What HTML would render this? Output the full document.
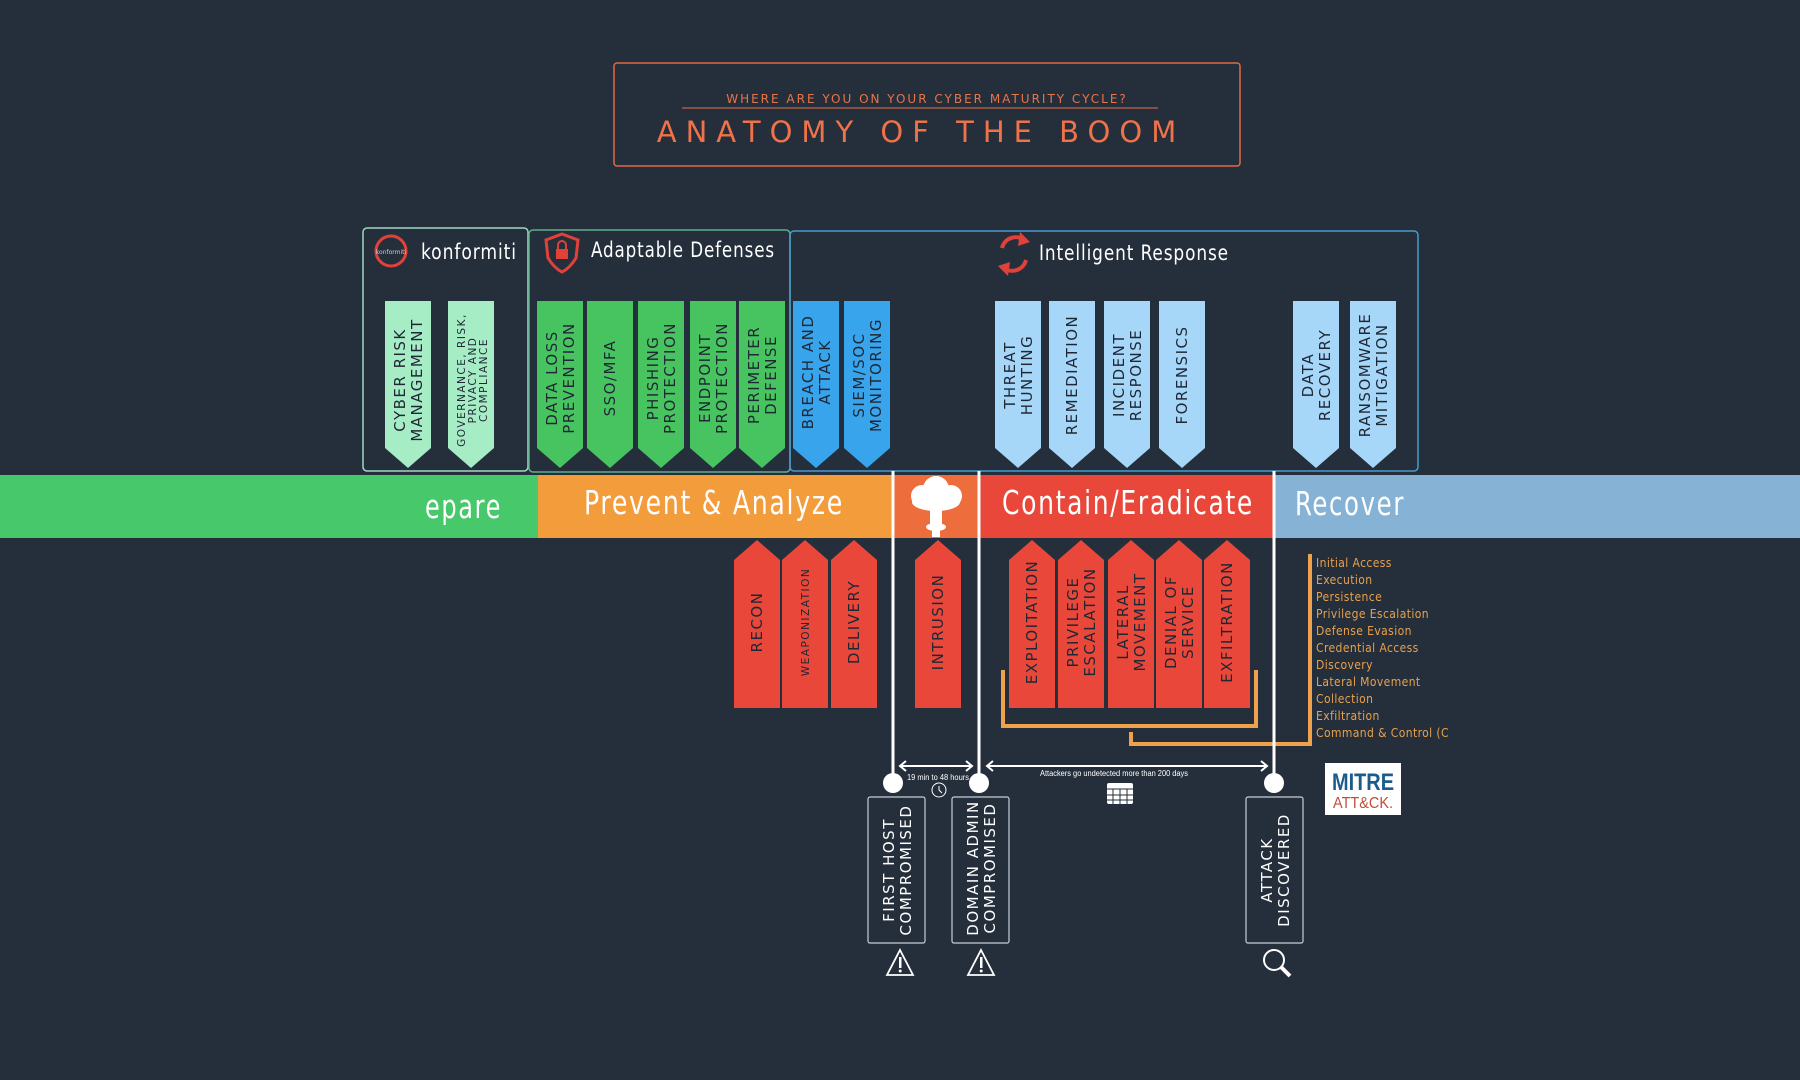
<!DOCTYPE html>
<html><head><meta charset="utf-8"><style>
html,body{margin:0;padding:0;background:#252e3b;}
svg{display:block}
.pt{font-family:"DejaVu Sans","Liberation Sans",sans-serif;font-size:15px;fill:#1f2735;letter-spacing:1.5px}
.sm{font-size:10.5px}
.hd{font-family:"Liberation Sans Narrow","DejaVu Sans Condensed","Liberation Sans",sans-serif;fill:#fff;font-size:21px;letter-spacing:1px}
.band{font-family:"Liberation Sans Narrow","DejaVu Sans Condensed","Liberation Sans",sans-serif;fill:#fff;font-size:33px;letter-spacing:2px}
.ml{font-family:"Liberation Sans Narrow","DejaVu Sans Condensed","Liberation Sans",sans-serif;fill:#e8a14c;font-size:12px;letter-spacing:0.4px}
.lb{font-family:"DejaVu Sans","Liberation Sans",sans-serif;fill:#fff;font-size:15px;letter-spacing:1.5px}
</style></head><body>
<svg width="1800" height="1080" viewBox="0 0 1800 1080" xmlns="http://www.w3.org/2000/svg">
<rect width="1800" height="1080" fill="#252e3b"/>
<rect x="614" y="63" width="626" height="103" rx="3" fill="none" stroke="#e06a44" stroke-width="1.5"/>
<text x="927" y="103" text-anchor="middle" font-family="DejaVu Sans,sans-serif" font-size="12" fill="#e8744a" letter-spacing="2">WHERE ARE YOU ON YOUR CYBER MATURITY CYCLE?</text>
<line x1="682" y1="108" x2="1158" y2="108" stroke="#e8744a" stroke-width="1"/>
<text x="921" y="142" text-anchor="middle" font-family="DejaVu Sans,sans-serif" font-size="29" fill="#ef7248" letter-spacing="9">ANATOMY OF THE BOOM</text>

<rect x="363" y="228" width="165" height="243" rx="4" fill="none" stroke="#9fd8c4" stroke-width="1.5"/>
<rect x="529" y="230" width="261" height="242" rx="4" fill="none" stroke="#5fae8a" stroke-width="1.5"/>
<rect x="790" y="231" width="628" height="240" rx="4" fill="none" stroke="#4a9ad0" stroke-width="1.5"/>

<circle cx="391" cy="251" r="15" fill="none" stroke="#e0423a" stroke-width="3"/>
<text x="391" y="254" text-anchor="middle" font-size="6" fill="#ccc" font-family="DejaVu Sans,sans-serif">konformiti</text>
<text x="421" y="259" class="hd" textLength="96" lengthAdjust="spacingAndGlyphs">konformiti</text>
<path d="M562 234 L578 240 L576 258 Q570 268 562 272 Q554 268 548 258 L546 240 Z" fill="none" stroke="#e0423a" stroke-width="3"/>
<rect x="556" y="249" width="12" height="10" fill="#e0423a"/>
<path d="M558 249 v-4 a4 4 0 0 1 8 0 v4" fill="none" stroke="#e0423a" stroke-width="2"/>
<text x="591" y="257" class="hd" textLength="184" lengthAdjust="spacingAndGlyphs">Adaptable Defenses</text>
<path d="M1002 248 A14 14 0 0 1 1024 240" fill="none" stroke="#e0423a" stroke-width="4"/>
<path d="M1026 260 A14 14 0 0 1 1004 268" fill="none" stroke="#e0423a" stroke-width="4"/>
<polygon points="1020,232 1030,242 1018,246" fill="#e0423a"/>
<polygon points="1008,276 998,266 1010,262" fill="#e0423a"/>
<text x="1039" y="260" class="hd" textLength="190" lengthAdjust="spacingAndGlyphs">Intelligent Response</text>

<rect x="0" y="475" width="540" height="63" fill="#47c86a"/>
<rect x="538" y="475" width="355" height="63" fill="#f39c3c"/>
<rect x="893" y="475" width="86" height="63" fill="#ee6d3c"/>
<rect x="979" y="475" width="294" height="63" fill="#e8473a"/>
<rect x="1273" y="475" width="527" height="63" fill="#86b3d5"/>
<text x="425" y="518" class="band" textLength="77" lengthAdjust="spacingAndGlyphs">epare</text>
<text x="584" y="514" class="band" textLength="260" lengthAdjust="spacingAndGlyphs">Prevent &amp; Analyze</text>
<text x="1002" y="514" class="band" textLength="252" lengthAdjust="spacingAndGlyphs">Contain/Eradicate</text>
<text x="1295" y="515" class="band" textLength="110" lengthAdjust="spacingAndGlyphs">Recover</text>
<g fill="#fff">
<circle cx="922" cy="496" r="11"/><circle cx="936" cy="489" r="13"/><circle cx="951" cy="496" r="11"/>
<ellipse cx="936" cy="502" rx="24" ry="9"/>
<rect x="930" y="505" width="12" height="22"/>
<ellipse cx="936" cy="527" rx="10" ry="4"/>
<rect x="932" y="527" width="8" height="10"/>
</g>

<g>
<polygon points="385,301 431,301 431,448 408,468 385,448" fill="#a6ecc4"/>
<polygon points="448,301 494,301 494,448 471,468 448,448" fill="#a6ecc4"/>
<polygon points="537,301 583,301 583,448 560,468 537,448" fill="#47c460"/>
<polygon points="587,301 633,301 633,448 610,468 587,448" fill="#47c460"/>
<polygon points="638,301 684,301 684,448 661,468 638,448" fill="#47c460"/>
<polygon points="690,301 736,301 736,448 713,468 690,448" fill="#47c460"/>
<polygon points="739,301 785,301 785,448 762,468 739,448" fill="#47c460"/>
<polygon points="793,301 839,301 839,448 816,468 793,448" fill="#38a4ec"/>
<polygon points="844,301 890,301 890,448 867,468 844,448" fill="#38a4ec"/>
<polygon points="995,301 1041,301 1041,448 1018,468 995,448" fill="#a6d6f8"/>
<polygon points="1049,301 1095,301 1095,448 1072,468 1049,448" fill="#a6d6f8"/>
<polygon points="1104,301 1150,301 1150,448 1127,468 1104,448" fill="#a6d6f8"/>
<polygon points="1159,301 1205,301 1205,448 1182,468 1159,448" fill="#a6d6f8"/>
<polygon points="1293,301 1339,301 1339,448 1316,468 1293,448" fill="#a6d6f8"/>
<polygon points="1350,301 1396,301 1396,448 1373,468 1350,448" fill="#a6d6f8"/>
</g>
<g class="pt" text-anchor="middle">
<text transform="translate(408,380) rotate(-90)"><tspan x="0" y="-3">CYBER RISK</tspan><tspan x="0" y="14">MANAGEMENT</tspan></text>
<text transform="translate(471,380) rotate(-90)" class="pt sm"><tspan x="0" y="-6">GOVERNANCE, RISK,</tspan><tspan x="0" y="5">PRIVACY AND</tspan><tspan x="0" y="16">COMPLIANCE</tspan></text>
<text transform="translate(560,378) rotate(-90)"><tspan x="0" y="-3">DATA LOSS</tspan><tspan x="0" y="14">PREVENTION</tspan></text>
<text transform="translate(610,378) rotate(-90)"><tspan x="0" y="5">SSO/MFA</tspan></text>
<text transform="translate(661,378) rotate(-90)"><tspan x="0" y="-3">PHISHING</tspan><tspan x="0" y="14">PROTECTION</tspan></text>
<text transform="translate(713,378) rotate(-90)"><tspan x="0" y="-3">ENDPOINT</tspan><tspan x="0" y="14">PROTECTION</tspan></text>
<text transform="translate(762,375) rotate(-90)"><tspan x="0" y="-3">PERIMETER</tspan><tspan x="0" y="14">DEFENSE</tspan></text>
<text transform="translate(816,372) rotate(-90)"><tspan x="0" y="-3">BREACH AND</tspan><tspan x="0" y="14">ATTACK</tspan></text>
<text transform="translate(867,375) rotate(-90)"><tspan x="0" y="-3">SIEM/SOC</tspan><tspan x="0" y="14">MONITORING</tspan></text>
<text transform="translate(1018,375) rotate(-90)"><tspan x="0" y="-3">THREAT</tspan><tspan x="0" y="14">HUNTING</tspan></text>
<text transform="translate(1072,375) rotate(-90)"><tspan x="0" y="5">REMEDIATION</tspan></text>
<text transform="translate(1127,375) rotate(-90)"><tspan x="0" y="-3">INCIDENT</tspan><tspan x="0" y="14">RESPONSE</tspan></text>
<text transform="translate(1182,375) rotate(-90)"><tspan x="0" y="5">FORENSICS</tspan></text>
<text transform="translate(1316,375) rotate(-90)"><tspan x="0" y="-3">DATA</tspan><tspan x="0" y="14">RECOVERY</tspan></text>
<text transform="translate(1373,375) rotate(-90)"><tspan x="0" y="-3">RANSOMWARE</tspan><tspan x="0" y="14">MITIGATION</tspan></text>
</g>

<g fill="#e8473a">
<polygon points="734,560 757,540 780,560 780,708 734,708"/>
<polygon points="782,560 805,540 828,560 828,708 782,708"/>
<polygon points="831,560 854,540 877,560 877,708 831,708"/>
<polygon points="915,560 938,540 961,560 961,708 915,708"/>
<polygon points="1009,560 1032,540 1055,560 1055,708 1009,708"/>
<polygon points="1058,560 1081,540 1104,560 1104,708 1058,708"/>
<polygon points="1108,560 1131,540 1154,560 1154,708 1108,708"/>
<polygon points="1156,560 1179,540 1202,560 1202,708 1156,708"/>
<polygon points="1204,560 1227,540 1250,560 1250,708 1204,708"/>
</g>
<g class="pt" text-anchor="middle">
<text transform="translate(757,622) rotate(-90)"><tspan x="0" y="5">RECON</tspan></text>
<text transform="translate(805,622) rotate(-90)" class="pt sm"><tspan x="0" y="4">WEAPONIZATION</tspan></text>
<text transform="translate(854,622) rotate(-90)"><tspan x="0" y="5">DELIVERY</tspan></text>
<text transform="translate(938,622) rotate(-90)"><tspan x="0" y="5">INTRUSION</tspan></text>
<text transform="translate(1032,622) rotate(-90)"><tspan x="0" y="5">EXPLOITATION</tspan></text>
<text transform="translate(1081,622) rotate(-90)"><tspan x="0" y="-3">PRIVILEGE</tspan><tspan x="0" y="14">ESCALATION</tspan></text>
<text transform="translate(1131,622) rotate(-90)"><tspan x="0" y="-3">LATERAL</tspan><tspan x="0" y="14">MOVEMENT</tspan></text>
<text transform="translate(1179,622) rotate(-90)"><tspan x="0" y="-3">DENIAL OF</tspan><tspan x="0" y="14">SERVICE</tspan></text>
<text transform="translate(1227,622) rotate(-90)"><tspan x="0" y="5">EXFILTRATION</tspan></text>
</g>

<path d="M1003 670 V726 H1256 V670" fill="none" stroke="#efa24c" stroke-width="4"/>
<path d="M1131 732 V744 H1310 V554" fill="none" stroke="#efa24c" stroke-width="4"/>
<g class="ml">
<text x="1316" y="567">Initial Access</text>
<text x="1316" y="584">Execution</text>
<text x="1316" y="601">Persistence</text>
<text x="1316" y="618">Privilege Escalation</text>
<text x="1316" y="635">Defense Evasion</text>
<text x="1316" y="652">Credential Access</text>
<text x="1316" y="669">Discovery</text>
<text x="1316" y="686">Lateral Movement</text>
<text x="1316" y="703">Collection</text>
<text x="1316" y="720">Exfiltration</text>
<text x="1316" y="737">Command &amp; Control (C</text>
</g>
<rect x="1325" y="763" width="76" height="52" fill="#fff"/>
<text x="1363" y="790" text-anchor="middle" font-family="Liberation Sans Narrow,Liberation Sans,sans-serif" font-weight="bold" font-size="24" fill="#1c5c8c" textLength="62" lengthAdjust="spacingAndGlyphs">MITRE</text>
<text x="1363" y="808" text-anchor="middle" font-family="Liberation Sans Narrow,Liberation Sans,sans-serif" font-size="16" fill="#c0503a" textLength="60" lengthAdjust="spacingAndGlyphs">ATT&amp;CK.</text>

<g stroke="#fff" stroke-width="3">
<line x1="893" y1="471" x2="893" y2="783"/>
<line x1="979" y1="471" x2="979" y2="783"/>
<line x1="1274" y1="471" x2="1274" y2="783"/>
</g>
<g fill="#fff">
<circle cx="893" cy="783" r="10"/><circle cx="979" cy="783" r="10"/><circle cx="1274" cy="783" r="10"/>
</g>
<g stroke="#fff" stroke-width="2" fill="none">
<line x1="900" y1="766" x2="972" y2="766"/>
<polyline points="906,761 900,766 906,771"/><polyline points="966,761 972,766 966,771"/>
<line x1="987" y1="766" x2="1267" y2="766"/>
<polyline points="993,761 987,766 993,771"/><polyline points="1261,761 1267,766 1261,771"/>
</g>
<text x="938" y="780" text-anchor="middle" font-family="Liberation Sans Narrow,Liberation Sans,sans-serif" font-size="8" fill="#fff" textLength="62" lengthAdjust="spacingAndGlyphs">19 min to 48 hours</text>
<circle cx="939" cy="790" r="7" fill="none" stroke="#fff" stroke-width="1"/>
<path d="M939 786 V790 L942 793" stroke="#fff" fill="none" stroke-width="1"/>
<text x="1114" y="776" text-anchor="middle" font-family="Liberation Sans Narrow,Liberation Sans,sans-serif" font-size="8" fill="#fff" textLength="148" lengthAdjust="spacingAndGlyphs">Attackers go undetected more than 200 days</text>
<rect x="1107" y="783" width="26" height="21" rx="2" fill="#fff"/>
<g stroke="#252e3b" stroke-width="1"><line x1="1107" y1="789" x2="1133" y2="789"/><line x1="1107" y1="795" x2="1133" y2="795"/><line x1="1107" y1="800" x2="1133" y2="800"/><line x1="1113" y1="789" x2="1113" y2="804"/><line x1="1120" y1="789" x2="1120" y2="804"/><line x1="1127" y1="789" x2="1127" y2="804"/></g>

<g fill="none" stroke="#c9ced6" stroke-width="1.2">
<rect x="868" y="797" width="57" height="146" rx="2"/>
<rect x="952" y="797" width="57" height="146" rx="2"/>
<rect x="1246" y="797" width="57" height="146" rx="2"/>
</g>
<g class="lb" text-anchor="middle">
<text transform="translate(897,870) rotate(-90)"><tspan x="0" y="-3">FIRST HOST</tspan><tspan x="0" y="14">COMPROMISED</tspan></text>
<text transform="translate(981,868) rotate(-90)"><tspan x="0" y="-3">DOMAIN ADMIN</tspan><tspan x="0" y="14">COMPROMISED</tspan></text>
<text transform="translate(1275,870) rotate(-90)"><tspan x="0" y="-3">ATTACK</tspan><tspan x="0" y="14">DISCOVERED</tspan></text>
</g>
<g fill="none" stroke="#fff" stroke-width="1.8">
<polygon points="900,950 913,975 887,975"/>
<polygon points="981,950 994,975 968,975"/>
</g>
<g fill="#fff"><rect x="899" y="957" width="2.5" height="11"/><circle cx="900.2" cy="971" r="1.5"/>
<rect x="980" y="957" width="2.5" height="11"/><circle cx="981.2" cy="971" r="1.5"/></g>
<circle cx="1274" cy="960" r="10" fill="none" stroke="#fff" stroke-width="2"/>
<line x1="1281" y1="967" x2="1290" y2="976" stroke="#fff" stroke-width="4"/>
</svg>
</body></html>
